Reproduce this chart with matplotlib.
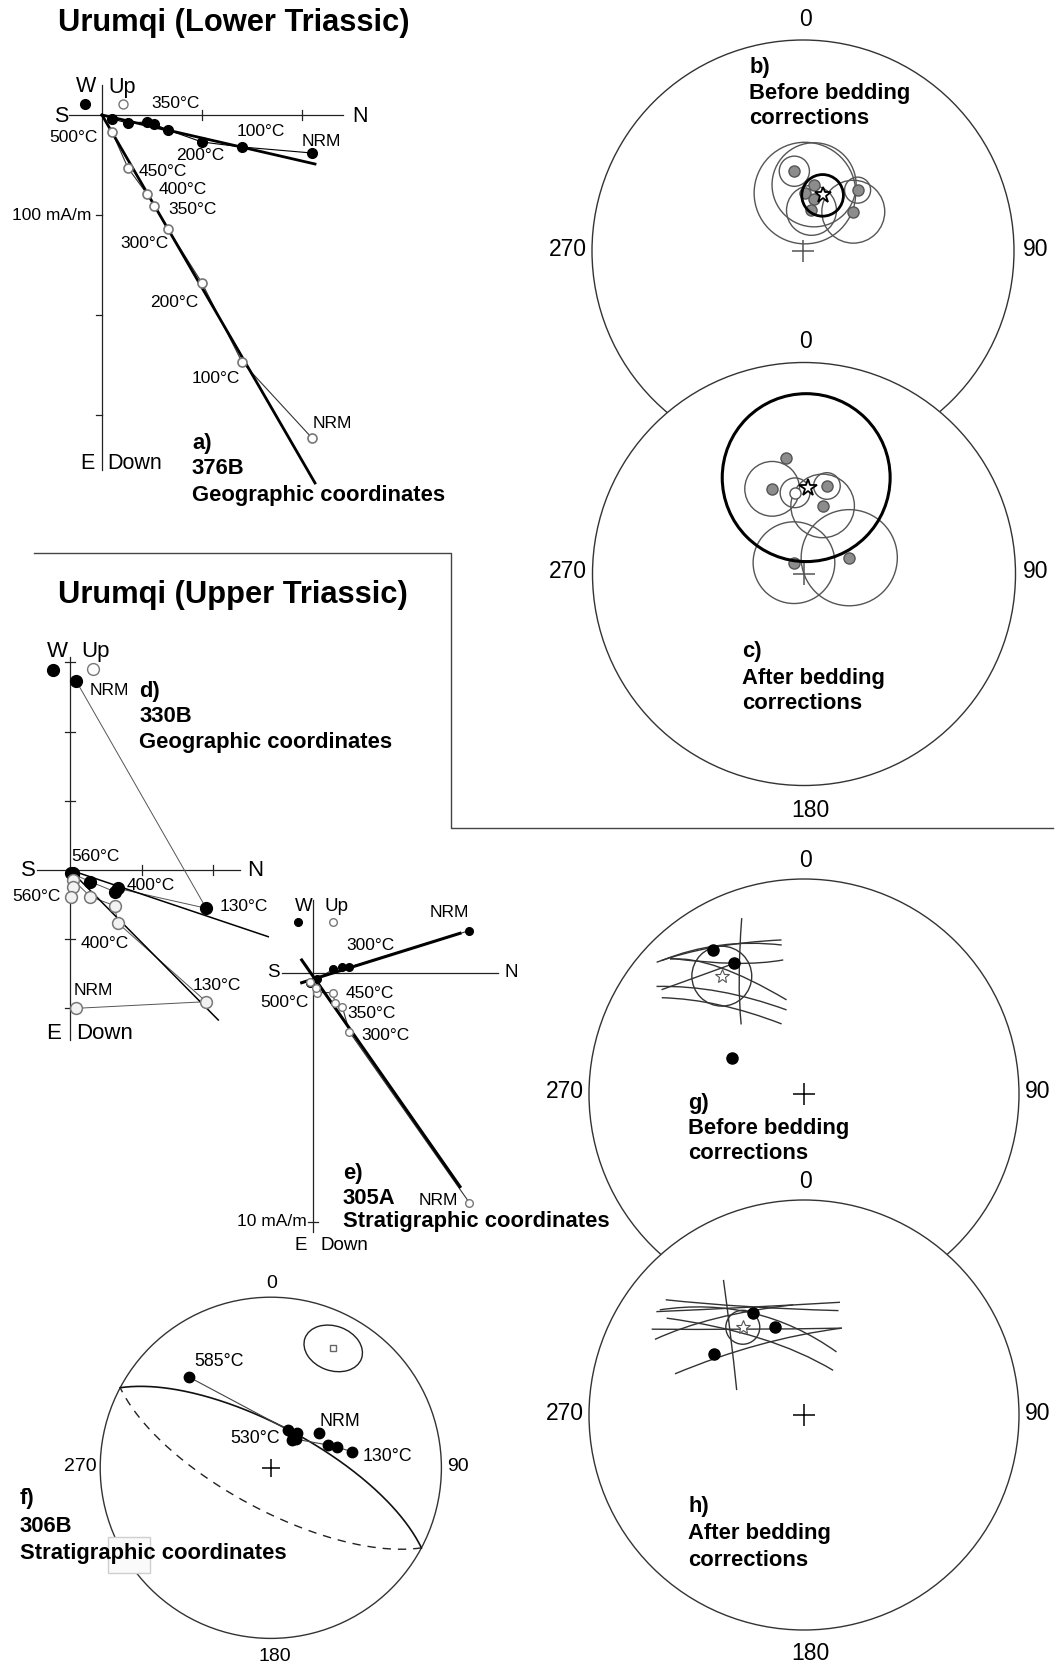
import numpy as np
import matplotlib
matplotlib.use("Agg")
import matplotlib.pyplot as plt
from matplotlib.patches import Circle, Ellipse, Rectangle, PathPatch
from matplotlib.path import Path
from matplotlib.lines import Line2D

plt.rcParams['font.family'] = ['Liberation Sans', 'DejaVu Sans']

# ====================== DATA ======================
# a) 376B, Zijderveld, geographic coordinates (mA/m); steps NRM,100,200,300,350,400,450,500
a_north = [210, 140, 100, 66, 52, 45, 26, 10]
a_east = [38, 32, 27, 15, 9, 7, 8, 4]
a_down = [323, 247, 168, 114, 91, 79, 53, 17]
a_fit_horiz = [213, 49]      # PCA line end (N, E)
a_fit_vert = [213, 368]      # PCA line end (N, Down)

# d) 330B, geographic coordinates (tick units)
d_north = [0.084, 1.905, 0.665, 0.625, 0.285, 0.046, 0.038, 0.014]
d_east = [-2.735, 0.553, 0.265, 0.313, 0.169, 0.06, 0.05, 0.048]
d_down = [1.999, 1.903, 0.762, 0.516, 0.386, 0.145, 0.241, 0.386]
d_fit_horiz = [2.773, 0.964]
d_fit_vert = [2.074, 2.168]

# e) 305A, stratigraphic coordinates (mA/m)
e_north_h = [6.27, 1.446, 1.14, 0.80, 0.137, -0.133]
e_east = [-1.69, -0.217, -0.217, -0.137, 0.265, 0.426]
e_north_v = [6.27, 1.446, 1.165, 0.87, 0.78, 0.16, 0.108, -0.133]
e_down = [9.24, 2.37, 1.365, 1.205, 0.80, 0.80, 0.614, 0.39]
e_fit_north = [-0.466, 5.89]
e_fit_east = [0.402, -1.582]
e_fit_down = [-0.51, 8.59]

# b) Lower Triassic site means, before bedding correction
b_dec = [353.8, 9.5, 1.9, 11.8, 11.8, 41.9, 52.0]
b_inc = [58.8, 64.0, 67.6, 69.5, 74.0, 58.2, 65.3]
b_a95 = [5.8, 16.2, 19.6, 0.0, 9.6, 5.0, 12.1]
b_mean = [19.4, 67.2]
b_mean_a95 = 8.0

# c) after bedding correction
c_dec = [351.0, 339.5, 14.6, 15.3, 318.5, 70.2]
c_inc = [43.7, 54.6, 54.6, 62.7, 84.2, 71.5]
c_a95 = [0.0, 10.5, 5.1, 12.2, 15.7, 18.5]
c_open = [353.7, 58.3]
c_open_a95 = 5.7
c_mean = [2.9, 56.6]
c_mean_circle = [1.3, 52.4]
c_mean_a95 = 32.6

# f) 306B remagnetization circle, stratigraphic coordinates
f_steps = ['NRM', '130°C', '', '', '', '', '', '', '530°C', '585°C']
f_dec = [54.4, 78.8, 72.9, 68.4, 41.5, 36.9, 34.5, 36.4, 24.8, 318.0]
f_inc = [61.6, 49.7, 56.5, 60.3, 71.8, 73.4, 71.1, 69.1, 70.1, 29.3]
f_plane = [28.0, 70.0]            # dip direction, dip
f_square = [27.6, 22.1]
f_ellipse = [14.3, 10.6, -20.0]   # semi-axes (deg), orientation

# g) Upper Triassic, before bedding correction
g_dec = [327.8, 331.9, 296.7]
g_inc = [21.9, 31.7, 59.2]
g_mean = [325.1, 33.6]
g_a95 = 11.3
g_arc_dec = [[311.8, 328.3, 351.7], [313.1, 330.5, 351.5], [315.4, 331.9, 351.2],
             [315.2, 326.4, 349.5], [306.2, 318.6, 331.9], [306.1, 320.6, 348.3],
             [304.1, 316.6, 342.3], [340.5, 331.1, 317.9]]
g_arc_inc = [[8.9, 20.9, 28.4], [10.1, 21.6, 30.6], [12.3, 31.7, 37.0],
             [12.6, 30.0, 53.3], [19.0, 27.6, 31.7], [16.2, 38.3, 57.2],
             [21.2, 42.5, 62.0], [14.3, 37.6, 54.1]]

# h) after bedding correction
h_dec = [333.2, 341.6, 304.0]
h_inc = [45.9, 54.5, 48.1]
h_mean = [325.1, 48.8]
h_a95 = 6.4
h_arc_dec = [[309.8, 332.1, 18.3], [305.0, 331.9, 17.7], [296.9, 317.9, 354.4],
             [299.4, 324.5, 23.5], [306.1, 333.2, 27.3], [305.2, 330.1, 33.1],
             [287.7, 327.0, 23.5], [329.2, 317.5, 290.3]]
h_arc_inc = [[17.4, 42.4, 47.6], [17.3, 42.7, 44.2], [23.3, 39.2, 47.3],
             [19.8, 49.5, 53.7], [18.1, 45.9, 63.0], [22.9, 56.1, 69.8],
             [37.1, 58.1, 53.7], [27.7, 48.1, 62.7]]

# ====================== HELPERS ======================
W, H = 1056, 1667
fig = plt.figure(figsize=(W / 100, H / 100), dpi=100)
fig.patch.set_facecolor('white')


def fx(x):
    return x / W


def fy(y):
    return 1 - y / H


def px_axes(x0, y0, x1, y1):
    ax = fig.add_axes([fx(x0), fy(y1), (x1 - x0) / W, (y1 - y0) / H])
    ax.set_axis_off()
    return ax


def label(x, y, s, size=12.5, ha='left', va='center', bold=False, color='black'):
    fig.text(fx(x), fy(y), s, fontsize=size, ha=ha, va=va,
             fontweight='bold' if bold else 'normal', color=color)


def legend_dot(x, y, filled, ms):
    fig.add_artist(Line2D([fx(x)], [fy(y)], transform=fig.transFigure, ls='none',
                          marker='o', ms=ms, mfc='black' if filled else 'white',
                          mec='black' if filled else '#777', mew=1.0))


def neg(v):
    return [-a for a in v]


def zij_axes(box, origin, sx, sy):
    x0, y0, x1, y1 = box
    ox, oy = origin
    ax = px_axes(x0, y0, x1, y1)
    ax.set_xlim((x0 - ox) / sx, (x1 - ox) / sx)
    ax.set_ylim((oy - y1) / sy, (oy - y0) / sy)
    return ax


def zij_frame(ax, xr, yr, xticks, yticks, xt_half, yt_span):
    kw = dict(color='#222', lw=0.9, clip_on=False)
    ax.plot(xr, [0, 0], **kw)
    ax.plot([0, 0], yr, **kw)
    for t in xticks:
        ax.plot([t, t], [-xt_half, xt_half], **kw)
    for t in yticks:
        ax.plot(yt_span, [t, t], **kw)


def proj(dec, inc):
    dec = np.radians(np.asarray(dec, dtype=float))
    inc = np.asarray(inc, dtype=float)
    r = np.sqrt(2.0) * np.sin(np.radians(90.0 - np.abs(inc)) / 2.0)
    return r * np.sin(dec), r * np.cos(dec)


def cone_r(a):
    return np.sqrt(2.0) * np.sin(np.radians(a) / 2.0)


def plane_trace(dipdir, dip, t0, t1, n=200):
    s = np.radians(dipdir - 90.0)
    sv = np.array([np.cos(s), np.sin(s), 0.0])
    di, dd = np.radians(dip), np.radians(dipdir)
    dv = np.array([np.cos(di) * np.cos(dd), np.cos(di) * np.sin(dd), np.sin(di)])
    t = np.radians(np.linspace(t0, t1, n))
    v = np.outer(sv, np.cos(t)) + np.outer(dv, np.sin(t))
    inc = np.degrees(np.arcsin(np.clip(v[2], -1, 1)))
    dec = np.degrees(np.arctan2(v[1], v[0]))
    return proj(dec, inc)


def arc3(ax, decs, incs, **kw):
    xs, ys = proj(decs, incs)
    p0 = np.array([xs[0], ys[0]])
    p1 = np.array([xs[1], ys[1]])
    p2 = np.array([xs[2], ys[2]])
    c = 2 * p1 - 0.5 * (p0 + p2)
    path = Path([p0, c, p2], [Path.MOVETO, Path.CURVE3, Path.CURVE3])
    ax.add_patch(PathPatch(path, fill=False, clip_on=False, **kw))


def stereo_axes(cx, cy, R, cross_color='black', cross_ms=15.5):
    ax = px_axes(cx - R, cy - R, cx + R, cy + R)
    ax.set_xlim(-1, 1)
    ax.set_ylim(-1, 1)
    ax.add_patch(Circle((0, 0), 1, facecolor='white', edgecolor='#333', lw=1.0,
                        clip_on=False, zorder=0.5))
    ax.plot([0], [0], marker='+', ms=cross_ms, mew=1.1, color=cross_color, zorder=2,
            clip_on=False)
    return ax


# ====================== PANEL a ======================
ax = zij_axes((30, 60, 470, 520), (102, 115), 1.0, 1.0)
zij_frame(ax, [-33, 241], [30, -355], [100, 200], [-100, -200, -300], 5, [-6, 0])
ax.plot(a_north, neg(a_east), color='black', lw=0.8, clip_on=False)
ax.plot([0, a_fit_horiz[0]], [0, -a_fit_horiz[1]], color='black', lw=2.0, clip_on=False)
ax.plot(a_north, neg(a_east), 'o', ms=7, color='black', ls='none', clip_on=False, zorder=4)
ax.plot(a_north, neg(a_down), color='#333', lw=0.8, clip_on=False)
ax.plot([0, a_fit_vert[0]], [0, -a_fit_vert[1]], color='black', lw=2.0, clip_on=False)
ax.plot(a_north, neg(a_down), 'o', ms=6.5, mfc='white', mec='#777', mew=1.2, ls='none',
        clip_on=False, zorder=4)
legend_dot(85, 104.3, True, 7)
legend_dot(122.7, 104.3, False, 6.5)

label(233.3, 23.3, 'Urumqi (Lower Triassic)', 22.2, ha='center', bold=True)
label(86, 87, 'W', 15.5, ha='center')
label(108, 87, 'Up', 15.5)
label(61, 116, 'S', 15.5, ha='center')
label(360, 116, 'N', 15.5, ha='center')
label(151.7, 103.3, '350°C')
label(237, 132, '100°C')
label(301.7, 141.7, 'NRM')
label(176, 156, '200°C')
label(49.3, 137.3, '500°C')
label(138.3, 171, '450°C')
label(158.3, 189, '400°C')
label(168.3, 209, '350°C')
label(120.7, 243.3, '300°C')
label(150, 302.7, '200°C')
label(191.7, 378.3, '100°C')
label(312.7, 424, 'NRM')
label(91, 215, '100 mA/m', ha='right')
label(87, 463.3, 'E', 15.5, ha='center')
label(107.3, 463.3, 'Down', 15.5)
label(192, 443.3, 'a)', 15.8, bold=True)
label(192, 468.3, '376B', 15.8, bold=True)
label(192, 495, 'Geographic coordinates', 15.8, bold=True)

# ====================== PANEL b ======================
ax = stereo_axes(803, 251, 211, cross_color='#555')
for d, i, a in zip(b_dec, b_inc, b_a95):
    if a > 0:
        x, y = proj(d, i)
        ax.add_patch(Circle((x, y), cone_r(a), fill=False, ec='#555', lw=1.0,
                            clip_on=False, zorder=1))
xs, ys = proj(b_dec, b_inc)
ax.plot(xs, ys, 'o', ms=8, mfc='#8c8c8c', mec='#555', mew=1.0, ls='none', zorder=3)
mx, my = proj(*b_mean)
ax.add_patch(Circle((mx, my), cone_r(b_mean_a95), fill=False, ec='black', lw=2.0, zorder=4))
ax.plot([mx], [my], marker='*', ms=12, mfc='white', mec='black', mew=1.3, zorder=5)
label(805, 20, '0', 16.5, ha='center')
label(568, 250, '270', 16.5, ha='center')
label(1035.7, 250, '90', 16.5, ha='center')
label(749.3, 67, 'b)', 15.8, bold=True)
label(749.3, 93, 'Before bedding', 15.8, bold=True)
label(749.3, 118, 'corrections', 15.8, bold=True)

# ====================== PANEL c ======================
ax = stereo_axes(804, 574, 211.5, cross_color='#555')
for d, i, a in zip(c_dec, c_inc, c_a95):
    if a > 0:
        x, y = proj(d, i)
        ax.add_patch(Circle((x, y), cone_r(a), fill=False, ec='#555', lw=1.0,
                            clip_on=False, zorder=1))
ox_, oy_ = proj(*c_open)
ax.add_patch(Circle((ox_, oy_), cone_r(c_open_a95), fill=False, ec='#555', lw=1.0, zorder=1))
xs, ys = proj(c_dec, c_inc)
ax.plot(xs, ys, 'o', ms=8, mfc='#8c8c8c', mec='#555', mew=1.0, ls='none', zorder=3)
ax.plot([ox_], [oy_], 'o', ms=8, mfc='white', mec='#555', mew=1.0, zorder=3)
cx_, cy_ = proj(*c_mean_circle)
ax.add_patch(Circle((cx_, cy_), cone_r(c_mean_a95), fill=False, ec='black', lw=2.2, zorder=4))
mx, my = proj(*c_mean)
ax.plot([mx], [my], marker='*', ms=13, mfc='white', mec='black', mew=1.3, zorder=5)
label(805, 342, '0', 16.5, ha='center')
label(568, 571.7, '270', 16.5, ha='center')
label(1035.7, 571.7, '90', 16.5, ha='center')
label(810, 810, '180', 16.5, ha='center')
label(741.7, 651.7, 'c)', 15.8, bold=True)
label(741.7, 678.3, 'After bedding', 15.8, bold=True)
label(741.7, 703.3, 'corrections', 15.8, bold=True)

# divider lines
fig.add_artist(Line2D([fx(34), fx(451), fx(451), fx(1053)],
                      [fy(553), fy(553), fy(828), fy(828)],
                      transform=fig.transFigure, color='#444', lw=1.0))

# ====================== PANEL d ======================
ax = zij_axes((5, 640, 300, 1050), (70, 870), 71.5, 69.2)
zij_frame(ax, [-0.466, 2.378], [3.08, -2.457], [1, 2], [3, 2, 1, -1, -2],
          5 / 69.2, [-5 / 71.5, 5 / 71.5])
ax.plot(d_north, neg(d_east), color='#555', lw=0.7, clip_on=False)
ax.plot([0, d_fit_horiz[0]], [0, -d_fit_horiz[1]], color='black', lw=1.1, clip_on=False)
ax.plot(d_north, neg(d_east), 'o', ms=8.5, color='black', ls='none', clip_on=False, zorder=4)
ax.plot(d_north, neg(d_down), color='#555', lw=0.7, clip_on=False)
ax.plot([0, d_fit_vert[0]], [0, -d_fit_vert[1]], color='black', lw=1.1, clip_on=False)
ax.plot(d_north, neg(d_down), 'o', ms=8.5, mfc='#f2f2f2', mec='#777', mew=1.1, ls='none',
        clip_on=False, zorder=4)
legend_dot(52.7, 670, True, 8.5)
legend_dot(93.3, 669.3, False, 8.5)

label(233.3, 595, 'Urumqi (Upper Triassic)', 22.2, ha='center', bold=True)
label(57.5, 651.7, 'W', 16, ha='center')
label(81.7, 651.7, 'Up', 16)
label(90, 690, 'NRM')
label(139.3, 691.7, 'd)', 15.8, bold=True)
label(139.3, 716.7, '330B', 15.8, bold=True)
label(139.3, 742.3, 'Geographic coordinates', 15.8, bold=True)
label(71.7, 856.7, '560°C')
label(28.3, 871, 'S', 16, ha='center')
label(255, 871, 'N', 16, ha='center')
label(126.7, 885, '400°C')
label(220, 906.7, '130°C')
label(12.7, 896, '560°C')
label(81, 943.3, '400°C')
label(192.7, 985, '130°C')
label(73.3, 990.7, 'NRM')
label(53.3, 1033.3, 'E', 16, ha='center')
label(76, 1033.3, 'Down', 16)

# ====================== PANEL e ======================
ax = zij_axes((250, 890, 520, 1240), (313.3, 972.7), 24.9, 24.9)
zij_frame(ax, [-1.27, 7.42], [2.92, -10.41], [], [-10], 0.2, [-0.2, 0.2])
ax.plot(e_north_h, neg(e_east), color='#333', lw=0.8, clip_on=False)
ax.plot(e_fit_north, neg(e_fit_east), color='black', lw=2.2, clip_on=False)
ax.plot(e_north_h, neg(e_east), 'o', ms=5.5, color='black', ls='none', clip_on=False, zorder=4)
ax.plot(e_north_v, neg(e_down), color='#333', lw=0.8, clip_on=False)
ax.plot(e_fit_north, neg(e_fit_down), color='black', lw=2.2, clip_on=False)
ax.plot(e_north_v, neg(e_down), 'o', ms=5.5, mfc='white', mec='#777', mew=1.0, ls='none',
        clip_on=False, zorder=4)
legend_dot(298.3, 921.7, True, 5.5)
legend_dot(332.7, 921.7, False, 5.5)

label(303.3, 906.7, 'W', 13.5, ha='center')
label(325, 906.7, 'Up', 13.5)
label(430, 912.3, 'NRM')
label(346.7, 945, '300°C')
label(273.3, 972.7, 'S', 13.5, ha='center')
label(511.7, 972.7, 'N', 13.5, ha='center')
label(346, 993.3, '450°C')
label(347.3, 1013.3, '350°C')
label(361.7, 1036, '300°C')
label(260.7, 1002.7, '500°C', ha='left')
label(342.7, 1173.3, 'e)', 15.8, bold=True)
label(342.7, 1198.3, '305A', 15.8, bold=True)
label(342.7, 1221.7, 'Stratigraphic coordinates', 15.8, bold=True)
label(418.3, 1200.7, 'NRM')
label(306.5, 1221.7, '10 mA/m', ha='right')
label(301, 1245, 'E', 13.5, ha='center')
label(321, 1245, 'Down', 13.5)

# ====================== PANEL g ======================
ax = stereo_axes(804, 1094, 215)
for dd, ii in zip(g_arc_dec, g_arc_inc):
    arc3(ax, dd, ii, ec='#333', lw=1.0, zorder=1)
mx, my = proj(*g_mean)
ax.add_patch(Circle((mx, my), cone_r(g_a95), fill=False, ec='#333', lw=1.0, zorder=1))
ax.plot([mx], [my], marker='*', ms=10, mfc='white', mec='#555', mew=0.8, zorder=3)
xs, ys = proj(g_dec, g_inc)
ax.plot(xs, ys, 'o', ms=8, color='black', ls='none', zorder=4)
label(805, 860.7, '0', 16.5, ha='center')
label(564.5, 1092, '270', 16.5, ha='center')
label(1038, 1092, '90', 16.5, ha='center')
label(688.3, 1103.3, 'g)', 15.8, bold=True)
label(688.3, 1128.3, 'Before bedding', 15.8, bold=True)
label(688.3, 1153.3, 'corrections', 15.8, bold=True)

# ====================== PANEL h ======================
ax = stereo_axes(804, 1415, 215)
for dd, ii in zip(h_arc_dec, h_arc_inc):
    arc3(ax, dd, ii, ec='#333', lw=1.0, zorder=1)
mx, my = proj(*h_mean)
ax.add_patch(Circle((mx, my), cone_r(h_a95), fill=False, ec='#333', lw=1.0, zorder=1))
ax.plot([mx], [my], marker='*', ms=10, mfc='white', mec='#555', mew=0.8, zorder=3)
xs, ys = proj(h_dec, h_inc)
ax.plot(xs, ys, 'o', ms=8, color='black', ls='none', zorder=4)
label(805, 1181.7, '0', 16.5, ha='center')
label(564.5, 1413, '270', 16.5, ha='center')
label(1038, 1413, '90', 16.5, ha='center')
label(810, 1653, '180', 16.5, ha='center')
label(688.3, 1506.7, 'h)', 15.8, bold=True)
label(688.3, 1533.3, 'After bedding', 15.8, bold=True)
label(688.3, 1560, 'corrections', 15.8, bold=True)

# ====================== PANEL f ======================
ax = stereo_axes(270.8, 1467.8, 170.6, cross_ms=13)
xl, yl = plane_trace(f_plane[0], f_plane[1], 0, 180)
ax.plot(xl, yl, color='#111', lw=1.2, zorder=1)
xu, yu = plane_trace(f_plane[0], f_plane[1], 180, 360)
ax.plot(xu, yu, color='#222', lw=1.0, ls=(0, (6, 5)), zorder=1)
sx_, sy_ = proj(*f_square)
ax.add_patch(Ellipse((sx_, sy_), 2 * cone_r(f_ellipse[0]), 2 * cone_r(f_ellipse[1]),
                     angle=f_ellipse[2], fill=False, ec='#222', lw=1.0, zorder=1))
ax.plot([sx_], [sy_], 's', ms=5, mfc='white', mec='#666', mew=1.0, zorder=3)
xs, ys = proj(f_dec, f_inc)
ax.plot(xs[1:], ys[1:], color='#444', lw=0.8, zorder=2)
ax.plot(xs, ys, 'o', ms=7.5, color='black', ls='none', zorder=4)
label(271.7, 1283.3, '0', 14, ha='center')
label(96.7, 1466.7, '270', 14, ha='right')
label(446.7, 1466.7, '90', 14)
label(275, 1656.7, '180', 14, ha='center')
label(194.3, 1361.7, '585°C', 12.8)
label(319.3, 1421.7, 'NRM', 12.8)
label(230.7, 1438.3, '530°C', 12.8)
label(362.7, 1456.7, '130°C', 12.8)
fig.add_artist(Rectangle((fx(108.3), fy(1572.7)), (150 - 108.3) / W, (1572.7 - 1536.7) / H,
                         transform=fig.transFigure, facecolor='#fafafa', edgecolor='#cfcfcf',
                         lw=1.0, zorder=2))
label(20, 1498.3, 'f)', 15.8, bold=True)
label(20, 1526.7, '306B', 15.8, bold=True)
label(20, 1553.3, 'Stratigraphic coordinates', 15.8, bold=True)

fig.savefig('out.png', dpi=100, facecolor='white')
